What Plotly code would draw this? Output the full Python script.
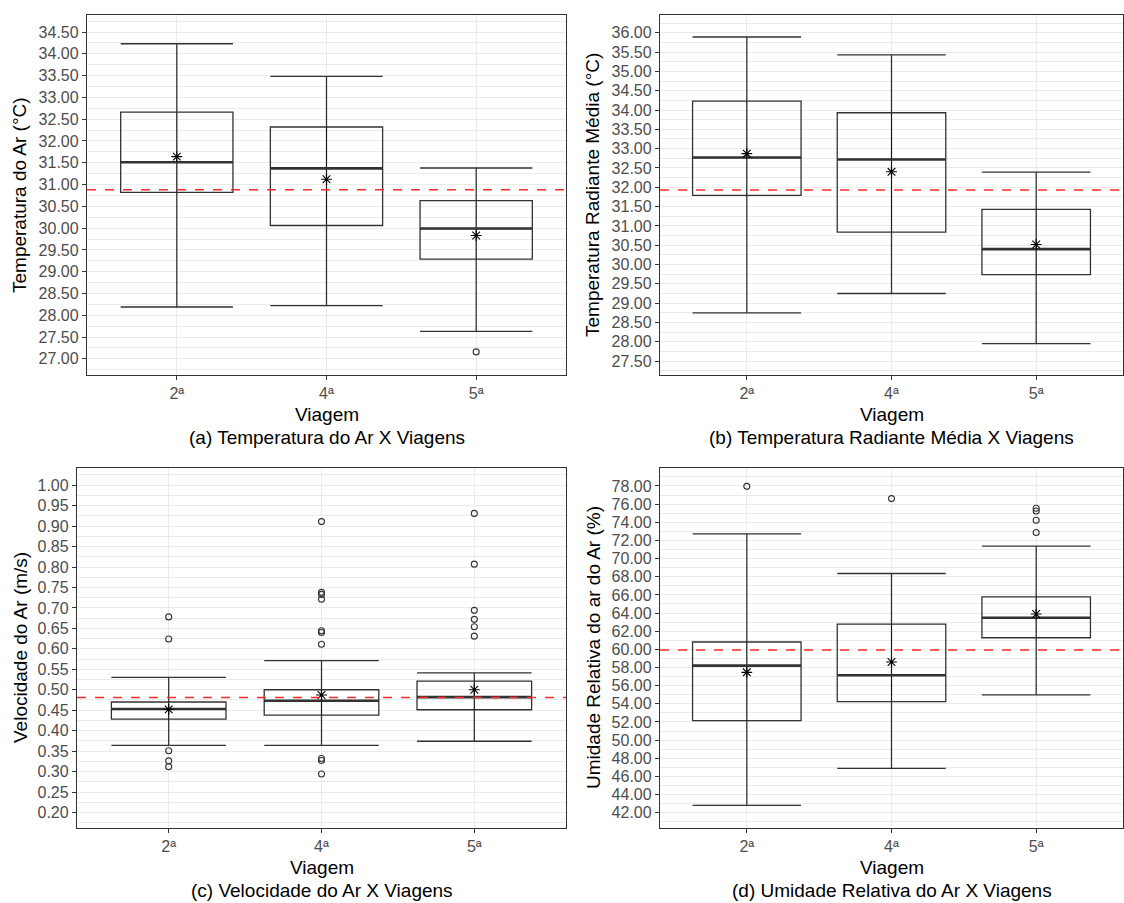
import plotly.graph_objects as go

W, H = 1124, 903

cats = ["2ª", "4ª", "5ª"]
pos = [1, 2, 3]

# (a) Temperatura do Ar
a_lower = [28.19, 28.22, 27.63]
a_q1 = [30.82, 30.06, 29.29]
a_med = [31.51, 31.37, 29.99]
a_q3 = [32.66, 32.32, 30.63]
a_upper = [34.23, 33.48, 31.38]
a_mean = [31.64, 31.12, 29.83]
a_out_cat = ["5ª"]
a_out_val = [27.16]
a_ref = 30.88

# (b) Temperatura Radiante Média
b_lower = [28.75, 29.25, 27.95]
b_q1 = [31.79, 30.84, 29.74]
b_med = [32.77, 32.72, 30.40]
b_q3 = [34.23, 33.93, 31.43]
b_upper = [35.89, 35.43, 32.39]
b_mean = [32.87, 32.40, 30.52]
b_out_cat = []
b_out_val = []
b_ref = 31.93

# (c) Velocidade do Ar
c_lower = [0.364, 0.364, 0.374]
c_q1 = [0.428, 0.438, 0.451]
c_med = [0.453, 0.473, 0.482]
c_q3 = [0.470, 0.500, 0.521]
c_upper = [0.530, 0.571, 0.541]
c_mean = [0.452, 0.487, 0.500]
c_out_cat = ["2ª", "2ª", "2ª", "2ª", "2ª",
             "4ª", "4ª", "4ª", "4ª", "4ª", "4ª", "4ª", "4ª", "4ª", "4ª",
             "5ª", "5ª", "5ª", "5ª", "5ª", "5ª"]
c_out_val = [0.678, 0.624, 0.351, 0.326, 0.312,
             0.911, 0.738, 0.733, 0.721, 0.644, 0.640, 0.611, 0.332, 0.327, 0.294,
             0.931, 0.807, 0.694, 0.672, 0.654, 0.631]
c_ref = 0.481

# (d) Umidade Relativa do Ar
d_lower = [42.81, 46.88, 54.98]
d_q1 = [52.16, 54.25, 61.28]
d_med = [58.21, 57.14, 63.48]
d_q3 = [60.81, 62.79, 65.79]
d_upper = [72.72, 68.36, 71.37]
d_mean = [57.47, 58.61, 63.89]
d_out_cat = ["2ª", "4ª", "5ª", "5ª", "5ª", "5ª"]
d_out_val = [77.96, 76.61, 75.55, 75.25, 74.22, 72.87]
d_ref = 59.93

y_titles = ["Temperatura do Ar (°C)", "Temperatura Radiante Média (°C)",
            "Velocidade do Ar (m/s)", "Umidade Relativa do ar do Ar (%)"]
captions = ["(a) Temperatura do Ar X Viagens",
            "(b) Temperatura Radiante Média X Viagens",
            "(c) Velocidade do Ar X Viagens",
            "(d) Umidade Relativa do Ar X Viagens"]
x_title = "Viagem"

# y axis settings: range, tick step
y_ranges = [[26.63, 34.89], [27.14, 36.46], [0.162, 1.042], [40.32, 79.98]]
y_dticks = [0.5, 0.5, 0.05, 2.0]

# panel geometry in pixels: (left, right, top, bottom)
panels_px = [(87, 566, 15, 375), (660, 1123, 15, 375),
             (77, 566, 468, 828), (660, 1123, 468, 828)]
ytitle_x_px = [20, 593, 20, 593]

data = [
    (a_lower, a_q1, a_med, a_q3, a_upper, a_mean, a_out_cat, a_out_val, a_ref),
    (b_lower, b_q1, b_med, b_q3, b_upper, b_mean, b_out_cat, b_out_val, b_ref),
    (c_lower, c_q1, c_med, c_q3, c_upper, c_mean, c_out_cat, c_out_val, c_ref),
    (d_lower, d_q1, d_med, d_q3, d_upper, d_mean, d_out_cat, d_out_val, d_ref),
]

BOX_W = 0.75
FONT = "Liberation Sans, Arial, sans-serif"
cat_pos = dict(zip(cats, pos))

fig = go.Figure()
shapes = []
annotations = []
layout_axes = {}

for i, (lo, q1, med, q3, up, mean, ocat, oval, ref) in enumerate(data):
    n = i + 1
    xa = "x" if n == 1 else f"x{n}"
    ya = "y" if n == 1 else f"y{n}"

    # box with whiskers and caps
    fig.add_trace(go.Box(
        x=pos, q1=q1, median=med, q3=q3, lowerfence=lo, upperfence=up,
        width=BOX_W, whiskerwidth=1, boxpoints=False,
        line=dict(color="#333333", width=1.3),
        fillcolor="rgba(0,0,0,0)", xaxis=xa, yaxis=ya, showlegend=False,
        hoverinfo="skip"))

    # whisker line continuing through the box
    vx, vy = [], []
    for p, a, b in zip(pos, q1, q3):
        vx += [p, p, None]
        vy += [a, b, None]
    fig.add_trace(go.Scatter(x=vx, y=vy, mode="lines",
                             line=dict(color="#1a1a1a", width=1.2),
                             xaxis=xa, yaxis=ya, showlegend=False, hoverinfo="skip"))

    # thick median line
    mx, my = [], []
    for p, m in zip(pos, med):
        mx += [p - BOX_W / 2, p + BOX_W / 2, None]
        my += [m, m, None]
    fig.add_trace(go.Scatter(x=mx, y=my, mode="lines",
                             line=dict(color="#333333", width=2.6),
                             xaxis=xa, yaxis=ya, showlegend=False, hoverinfo="skip"))

    # outliers
    if ocat:
        fig.add_trace(go.Scatter(
            x=[cat_pos[c] for c in ocat], y=oval, mode="markers",
            marker=dict(symbol="circle-open", size=6, color="#333333",
                        line=dict(width=1.1)),
            xaxis=xa, yaxis=ya, showlegend=False))

    # means
    fig.add_trace(go.Scatter(
        x=pos, y=mean, mode="markers",
        marker=dict(symbol="asterisk-open", size=9, color="black",
                    line=dict(width=1.1, color="black")),
        xaxis=xa, yaxis=ya, showlegend=False))

    # reference dashed line
    shapes.append(dict(type="line", xref=f"{xa} domain", yref=ya,
                       x0=0, x1=1, y0=ref, y1=ref,
                       line=dict(color="#ff2a2a", width=1.3, dash="dash")))

    L, R, T, B = panels_px[i]
    xdom = [L / W, R / W]
    ydom = [1 - B / H, 1 - T / H]
    dt = y_dticks[i]
    layout_axes["xaxis" if n == 1 else f"xaxis{n}"] = dict(
        domain=xdom, anchor=ya, range=[0.4, 3.6],
        tickmode="array", tickvals=pos, ticktext=cats,
        showgrid=True, gridcolor="#ebebeb", gridwidth=1.2,
        showline=True, mirror=True, linecolor="#333333", linewidth=1.3,
        ticks="outside", ticklen=4, tickcolor="#333333", tickwidth=1,
        tickfont=dict(family=FONT, size=16, color="#4d4d4d"),
        zeroline=False, automargin=False)
    layout_axes["yaxis" if n == 1 else f"yaxis{n}"] = dict(
        domain=ydom, anchor=xa, range=y_ranges[i],
        tick0=0, dtick=dt, tickformat=".2f",
        showgrid=True, gridcolor="#ebebeb", gridwidth=1.2,
        minor=dict(dtick=dt / 2, tick0=0, showgrid=True, gridcolor="#ebebeb",
                   gridwidth=0.8, ticks=""),
        showline=True, mirror=True, linecolor="#333333", linewidth=1.3,
        ticks="outside", ticklen=4, tickcolor="#333333", tickwidth=1,
        tickfont=dict(family=FONT, size=16, color="#4d4d4d"),
        zeroline=False, automargin=False)

    cx = (L + R) / 2 / W
    annotations.append(dict(text=x_title, x=cx, y=1 - (B + 39) / H,
                            xref="paper", yref="paper", showarrow=False,
                            xanchor="center", yanchor="middle",
                            font=dict(family=FONT, size=19, color="black")))
    annotations.append(dict(text=captions[i], x=cx, y=1 - (B + 62) / H,
                            xref="paper", yref="paper", showarrow=False,
                            xanchor="center", yanchor="middle",
                            font=dict(family=FONT, size=19, color="black")))
    annotations.append(dict(text=y_titles[i], x=ytitle_x_px[i] / W,
                            y=1 - (T + B) / 2 / H, textangle=-90,
                            xref="paper", yref="paper", showarrow=False,
                            xanchor="center", yanchor="middle",
                            font=dict(family=FONT, size=19, color="black")))

fig.update_layout(
    width=W, height=H, margin=dict(l=0, r=0, t=0, b=0),
    paper_bgcolor="white", plot_bgcolor="white",
    showlegend=False, shapes=shapes, annotations=annotations,
    font=dict(family=FONT),
    **layout_axes)

fig.write_html("out.html")
